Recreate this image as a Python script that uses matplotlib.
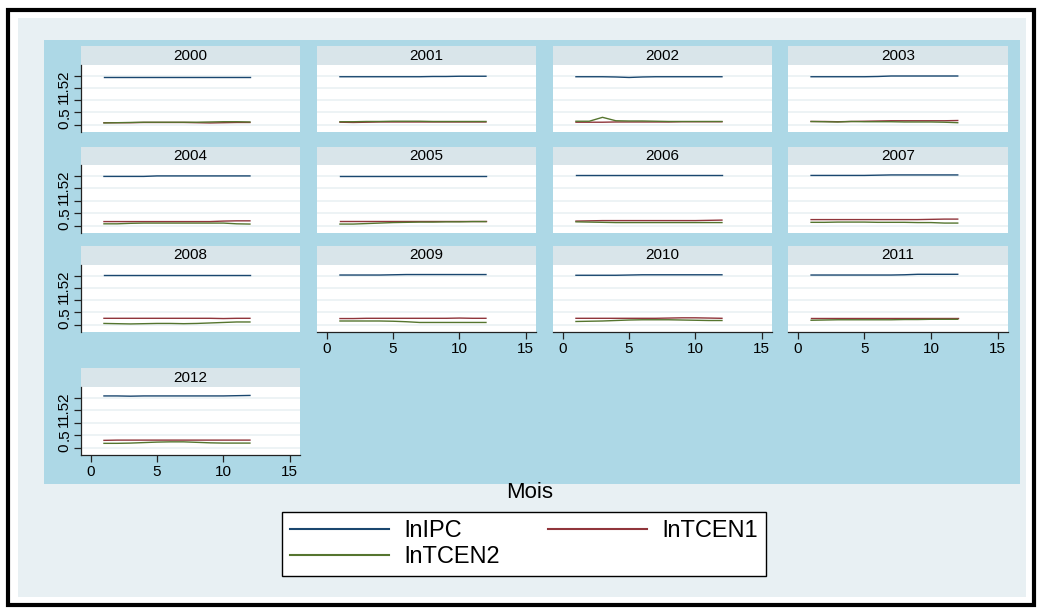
import matplotlib
matplotlib.use("Agg")
import matplotlib.pyplot as plt
from matplotlib.patches import Rectangle

plt.rcParams['font.family'] = ['Liberation Sans', 'DejaVu Sans']

W, H = 1041, 610

years = ["2000", "2001", "2002", "2003", "2004", "2005", "2006",
         "2007", "2008", "2009", "2010", "2011", "2012"]
mois = [1, 2, 3, 4, 5, 6, 7, 8, 9, 10, 11, 12]

lnIPC = [
    [1.95, 1.95, 1.95, 1.95, 1.95, 1.95, 1.95, 1.95, 1.95, 1.95, 1.95, 1.95],
    [1.96, 1.96, 1.96, 1.96, 1.96, 1.96, 1.96, 1.97, 1.97, 1.98, 1.98, 1.98],
    [1.96, 1.96, 1.96, 1.95, 1.93, 1.95, 1.96, 1.96, 1.96, 1.96, 1.96, 1.96],
    [1.96, 1.96, 1.96, 1.96, 1.96, 1.97, 1.99, 1.99, 1.99, 1.99, 1.99, 1.99],
    [1.98, 1.98, 1.98, 1.98, 2.00, 2.00, 2.00, 2.00, 2.00, 2.00, 2.00, 2.00],
    [2.00, 2.00, 2.00, 2.00, 2.00, 2.00, 2.00, 2.00, 2.00, 2.00, 2.00, 2.00],
    [2.02, 2.02, 2.02, 2.02, 2.02, 2.02, 2.02, 2.02, 2.02, 2.02, 2.02, 2.02],
    [2.02, 2.02, 2.02, 2.02, 2.02, 2.03, 2.04, 2.04, 2.04, 2.04, 2.04, 2.04],
    [2.04, 2.04, 2.04, 2.04, 2.04, 2.04, 2.04, 2.04, 2.04, 2.04, 2.04, 2.04],
    [2.03, 2.03, 2.03, 2.03, 2.04, 2.05, 2.05, 2.05, 2.05, 2.05, 2.05, 2.05],
    [2.02, 2.02, 2.02, 2.02, 2.03, 2.04, 2.04, 2.04, 2.04, 2.04, 2.04, 2.04],
    [2.03, 2.03, 2.03, 2.03, 2.03, 2.03, 2.03, 2.04, 2.06, 2.06, 2.06, 2.06],
    [2.08, 2.08, 2.07, 2.08, 2.08, 2.08, 2.08, 2.08, 2.08, 2.08, 2.09, 2.10],
]
lnTCEN1 = [
    [0.08, 0.08, 0.08, 0.09, 0.09, 0.09, 0.09, 0.08, 0.07, 0.08, 0.09, 0.09],
    [0.10, 0.09, 0.10, 0.11, 0.11, 0.11, 0.11, 0.11, 0.11, 0.11, 0.11, 0.11],
    [0.10, 0.10, 0.10, 0.11, 0.11, 0.11, 0.11, 0.11, 0.12, 0.12, 0.12, 0.12],
    [0.13, 0.13, 0.12, 0.13, 0.14, 0.15, 0.16, 0.16, 0.16, 0.16, 0.16, 0.17],
    [0.16, 0.16, 0.16, 0.16, 0.16, 0.16, 0.16, 0.16, 0.16, 0.18, 0.19, 0.19],
    [0.19, 0.19, 0.19, 0.19, 0.19, 0.19, 0.19, 0.19, 0.19, 0.19, 0.19, 0.19],
    [0.18, 0.19, 0.20, 0.20, 0.20, 0.20, 0.20, 0.20, 0.20, 0.20, 0.21, 0.22],
    [0.24, 0.24, 0.24, 0.24, 0.24, 0.24, 0.24, 0.24, 0.24, 0.25, 0.26, 0.26],
    [0.26, 0.26, 0.26, 0.26, 0.26, 0.26, 0.26, 0.26, 0.26, 0.25, 0.26, 0.26],
    [0.25, 0.25, 0.26, 0.26, 0.26, 0.26, 0.26, 0.26, 0.26, 0.27, 0.26, 0.26],
    [0.26, 0.26, 0.26, 0.26, 0.26, 0.26, 0.26, 0.27, 0.28, 0.28, 0.27, 0.26],
    [0.28, 0.28, 0.28, 0.28, 0.28, 0.28, 0.28, 0.28, 0.28, 0.28, 0.28, 0.28],
    [0.29, 0.30, 0.30, 0.30, 0.30, 0.30, 0.30, 0.30, 0.30, 0.30, 0.30, 0.30],
]
lnTCEN2 = [
    [0.07, 0.08, 0.09, 0.10, 0.10, 0.10, 0.10, 0.10, 0.11, 0.12, 0.12, 0.11],
    [0.12, 0.12, 0.13, 0.13, 0.14, 0.14, 0.14, 0.13, 0.13, 0.13, 0.13, 0.13],
    [0.14, 0.14, 0.30, 0.16, 0.15, 0.15, 0.14, 0.13, 0.13, 0.13, 0.13, 0.13],
    [0.13, 0.12, 0.11, 0.13, 0.12, 0.12, 0.12, 0.11, 0.11, 0.11, 0.10, 0.08],
    [0.07, 0.07, 0.09, 0.10, 0.10, 0.10, 0.10, 0.10, 0.10, 0.10, 0.07, 0.06],
    [0.06, 0.06, 0.08, 0.10, 0.12, 0.13, 0.14, 0.14, 0.15, 0.15, 0.16, 0.16],
    [0.15, 0.14, 0.13, 0.12, 0.12, 0.12, 0.12, 0.12, 0.12, 0.12, 0.12, 0.12],
    [0.13, 0.13, 0.14, 0.14, 0.14, 0.13, 0.13, 0.13, 0.12, 0.12, 0.10, 0.10],
    [0.05, 0.04, 0.03, 0.04, 0.05, 0.05, 0.04, 0.05, 0.07, 0.09, 0.11, 0.11],
    [0.15, 0.15, 0.15, 0.15, 0.14, 0.12, 0.09, 0.09, 0.09, 0.09, 0.09, 0.09],
    [0.13, 0.14, 0.15, 0.17, 0.19, 0.20, 0.20, 0.20, 0.19, 0.18, 0.17, 0.17],
    [0.18, 0.19, 0.20, 0.20, 0.20, 0.20, 0.20, 0.21, 0.21, 0.22, 0.22, 0.22],
    [0.17, 0.17, 0.18, 0.20, 0.22, 0.23, 0.23, 0.21, 0.19, 0.18, 0.18, 0.18],
]
series_names = ["lnIPC", "lnTCEN1", "lnTCEN2"]
yticks = [0, 0.5, 1, 1.5, 2]
ytick_labels = ["0", ".5", "1", "1.5", "2"]
xticks = [0, 5, 10, 15]
xtick_labels = ["0", "5", "10", "15"]

C_IPC = "#1a476f"
C_T1 = "#90353b"
C_T2 = "#55752f"
BG_OUT = "#e8f0f3"
BG_BLUE = "#add8e6"
BG_HEAD = "#d9e5ea"
GRID = "#eaf1f3"

fig = plt.figure(figsize=(W / 100, H / 100), dpi=100)
fig.patch.set_facecolor("white")


def fbox(x0, y0, x1, y1):
    return [x0 / W, 1 - y1 / H, (x1 - x0) / W, (y1 - y0) / H]


def frect(x0, y0, x1, y1, **kw):
    b = fbox(x0, y0, x1, y1)
    fig.patches.append(Rectangle((b[0], b[1]), b[2], b[3],
                                 transform=fig.transFigure, **kw))


frect(18, 18, 1026, 597, facecolor=BG_OUT, edgecolor="none", zorder=-20)
frect(44, 40, 1020, 484, facecolor=BG_BLUE, edgecolor="none", zorder=-10)
frect(8, 10, 1034, 605, facecolor="none", edgecolor="black", lw=3.0, zorder=50)

cols = [(81, 300), (317, 536), (553, 772), (788, 1008)]
rows = [(46, 65, 132), (147, 165, 233), (246, 265, 332), (368, 387, 455)]

bottom_panels = {"2009", "2010", "2011", "2012"}

lines_for_legend = []
for i, yr in enumerate(years):
    r, c = divmod(i, 4)
    x0, x1 = cols[c]
    hy0, py0, py1 = rows[r]
    hax = fig.add_axes(fbox(x0, hy0, x1, py0))
    hax.set_facecolor(BG_HEAD)
    hax.set_xticks([])
    hax.set_yticks([])
    for s in hax.spines.values():
        s.set_visible(False)
    hax.text(0.5, 0.5, yr, ha="center", va="center", fontsize=11,
             transform=hax.transAxes, color="black")

    ax = fig.add_axes(fbox(x0, py0, x1, py1))
    ax.set_facecolor("white")
    ax.set_xlim(-0.73, 15.77)
    ax.set_ylim(-0.3, 2.44)
    ax.set_yticks(yticks)
    ax.yaxis.grid(True, color=GRID, lw=1.2)
    ax.set_axisbelow(True)
    for s in ax.spines.values():
        s.set_visible(False)
    if c == 0:
        ax.spines["left"].set_visible(True)
        ax.spines["left"].set_color("#222222")
        ax.spines["left"].set_linewidth(0.9)
        ax.set_yticklabels(ytick_labels, rotation=90, va="center",
                           fontsize=11)
        ax.tick_params(axis="y", length=5, width=0.9, color="#222222", pad=2)
    else:
        ax.tick_params(axis="y", length=0, labelleft=False)
    if yr in bottom_panels:
        ax.spines["bottom"].set_visible(True)
        ax.spines["bottom"].set_color("#222222")
        ax.spines["bottom"].set_linewidth(0.9)
        ax.set_xticks(xticks)
        ax.set_xticklabels(xtick_labels, fontsize=11)
        ax.tick_params(axis="x", length=5, width=0.9, color="#222222", pad=2)
    else:
        ax.set_xticks([])
    l1, = ax.plot(mois, lnIPC[i], color=C_IPC, lw=1.0)
    l2, = ax.plot(mois, lnTCEN1[i], color=C_T1, lw=1.0)
    l3, = ax.plot(mois, lnTCEN2[i], color=C_T2, lw=1.0)
    if i == 0:
        lines_for_legend = [l1, l2, l3]

fig.text(530 / W, 1 - 493 / H, "Mois", ha="center", va="center", fontsize=16)

handles = [lines_for_legend[0], lines_for_legend[2], lines_for_legend[1]]
labels = [series_names[0], series_names[2], series_names[1]]
leg = fig.legend(handles, labels, loc="upper left",
                 bbox_to_anchor=(282 / W, 1 - 512 / H),
                 ncol=2, fontsize=17, frameon=True,
                 fancybox=False, edgecolor="black", framealpha=1,
                 handlelength=4.2, handletextpad=0.65, borderpad=0.35,
                 labelspacing=0.15, borderaxespad=0, columnspacing=2.0)
leg.get_frame().set_linewidth(1.0)
for lh in leg.get_lines():
    lh.set_linewidth(1.5)

fig.savefig("out.png", dpi=100)
